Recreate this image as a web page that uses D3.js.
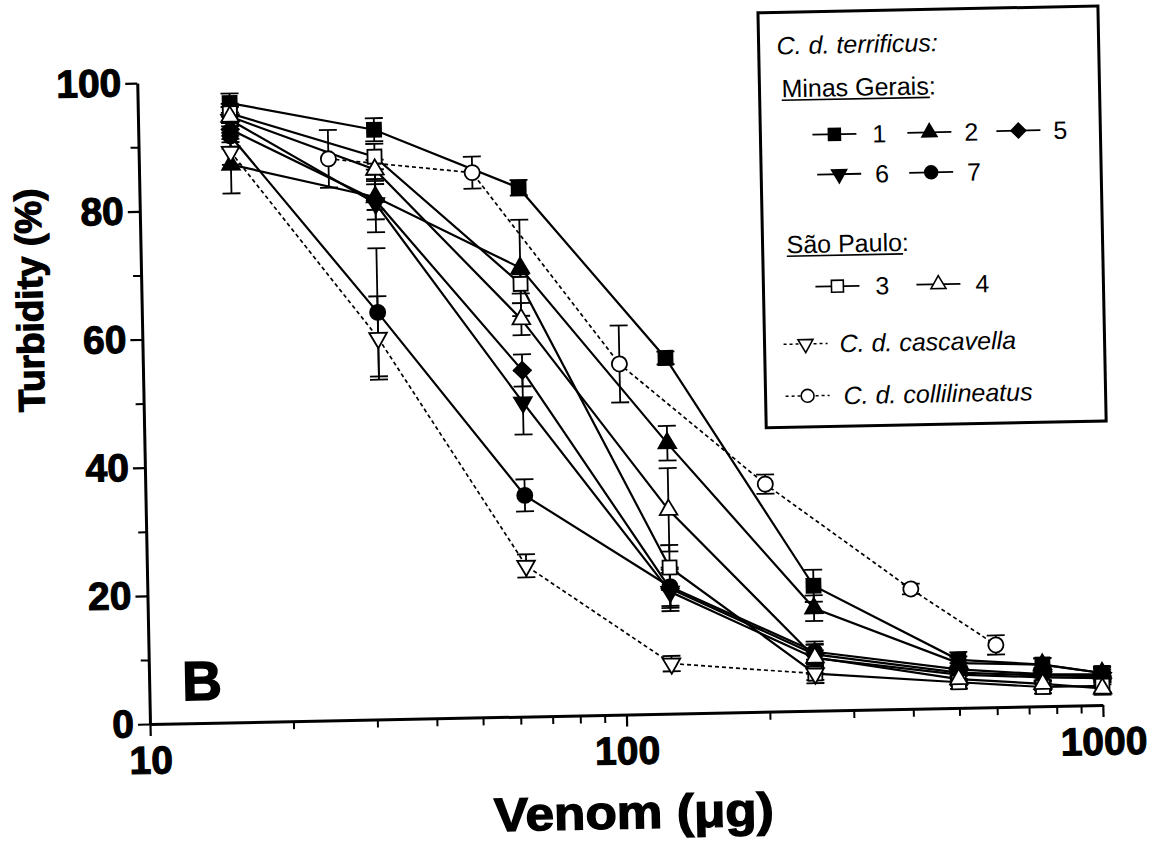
<!DOCTYPE html>
<html><head><meta charset="utf-8">
<script src="https://cdn.jsdelivr.net/npm/d3@7"></script>
<style>body{margin:0;background:#fff}</style>
</head><body><svg id="c" width="1159" height="846"></svg>
<script>
// ---- data ----
const doses = [15.6, 31.25, 62.5, 125, 250, 500, 750, 1000];
const mg1 = [96.6, 92.0, 82.5, 55.5, 19.5, 7.5, 6.5, 5.0];
const mg1Err = [1.5, 1.8, 1.2, 1.0, 2.5, 1.2, 1.0, 1.0];
const mg2 = [87.0, 81.5, 70.0, 42.2, 16.0, 7.0, 6.5, 5.0];
const mg2Err = [4.5, 2.0, 7.5, 2.7, 2.0, 1.0, 1.0, 1.0];
const mg5 = [92.5, 81.0, 54.0, 19.5, 8.8, 5.5, 4.8, 4.5];
const mg5Err = [2.0, 3.0, 2.5, 3.0, 1.5, 1.0, 1.0, 1.0];
const mg6 = [94.0, 80.5, 49.0, 19.0, 8.2, 5.2, 4.5, 4.2];
const mg6Err = [2.0, 4.5, 5.0, 3.0, 1.2, 1.0, 1.0, 1.0];
const mg7 = [91.5, 63.5, 34.5, 19.8, 9.2, 6.0, 5.0, 4.8];
const mg7Err = [2.0, 10.0, 2.5, 3.0, 1.2, 1.0, 1.0, 1.0];
const sp3 = [95.0, 87.8, 67.5, 22.8, 5.8, 4.0, 3.0, 3.0];
const sp3Err = [1.5, 2.0, 1.5, 3.5, 1.5, 1.0, 1.0, 1.0];
const sp4 = [94.5, 85.8, 62.0, 31.8, 8.3, 4.5, 3.5, 2.6];
const sp4Err = [1.5, 1.5, 2.5, 6.5, 2.5, 1.0, 1.0, 1.0];
const cascDoses = [15.6, 31.25, 62.5, 125, 250];
const casc = [89.0, 59.5, 23.5, 7.8, 5.8];
const cascErr = [2.0, 6.5, 1.8, 1.2, 1.0];
const colDoses = [25, 50, 100, 200, 400, 600];
const col = [87.6, 85.0, 54.7, 35.5, 18.7, 9.7];
const colErr = [4.5, 2.5, 6.0, 1.5, 0.8, 1.5];

const yMajor = [0, 20, 40, 60, 80, 100];
const yMinor = [10, 30, 50, 70, 90];
const xMajor = [10, 100, 1000];
const xMinor = [20, 30, 40, 50, 60, 70, 80, 90, 200, 300, 400, 500, 600, 700, 800, 900];

const series = [
  {key:"1", xs:doses, ys:mg1, es:mg1Err, sym:"square", fill:true, dash:false},
  {key:"2", xs:doses, ys:mg2, es:mg2Err, sym:"triUp", fill:true, dash:false},
  {key:"5", xs:doses, ys:mg5, es:mg5Err, sym:"diamond", fill:true, dash:false},
  {key:"6", xs:doses, ys:mg6, es:mg6Err, sym:"triDown", fill:true, dash:false},
  {key:"7", xs:doses, ys:mg7, es:mg7Err, sym:"circle", fill:true, dash:false},
  {key:"3", xs:doses, ys:sp3, es:sp3Err, sym:"square", fill:false, dash:false},
  {key:"4", xs:doses, ys:sp4, es:sp4Err, sym:"triUp", fill:false, dash:false},
  {key:"casc", xs:cascDoses, ys:casc, es:cascErr, sym:"triDown", fill:false, dash:true},
  {key:"col", xs:colDoses, ys:col, es:colErr, sym:"circle", fill:false, dash:true}
];

const FONT = "'Liberation Sans', Arial, Helvetica, sans-serif";
const svg = d3.select("#c");
svg.append("rect").attr("width",1159).attr("height",846).attr("fill","#fff");
const g = svg.append("g").attr("transform","rotate(-1.14,150,724)");

const x = d3.scaleLog().domain([10,1000]).range([150,1103]);
const y = d3.scaleLinear().domain([0,100]).range([724,83]);

function symPath(type, k) {
  k = k || 1;
  switch(type){
    case "square": return d3.symbol(d3.symbolSquare, 196*k*k)();
    case "triUp": return d3.symbol(d3.symbolTriangle, 135*k*k)();
    case "triDown": return d3.symbol(d3.symbolTriangle, 135*k*k)();
    case "diamond": return d3.symbol(d3.symbolSquare, 150*k*k)();
    case "circle": return d3.symbol(d3.symbolCircle, 180*k*k)();
  }
}
function symRot(type){ return type==="triDown" ? 180 : (type==="diamond" ? 45 : 0); }

// ---- axes ----
function styleAxis(sel){
  sel.select(".domain").attr("stroke","#000").attr("stroke-width",3);
  sel.selectAll(".tick line").attr("stroke","#000").attr("stroke-width",2.2);
  sel.selectAll("text").attr("font-family",FONT).attr("font-weight","bold")
     .attr("font-size",39).attr("fill","#000").attr("stroke","#000").attr("stroke-width",1.1);
}
const yAx = g.append("g").attr("transform","translate(150,0)")
  .call(d3.axisLeft(y).tickValues(yMajor).tickSize(12).tickSizeOuter(0).tickPadding(4).tickFormat(d3.format("d")));
styleAxis(yAx);
const yAxm = g.append("g").attr("transform","translate(150,0)")
  .call(d3.axisLeft(y).tickValues(yMinor).tickSize(8).tickSizeOuter(0).tickFormat(""));
yAxm.select(".domain").remove();
yAxm.selectAll(".tick line").attr("stroke","#000").attr("stroke-width",2);

const xAx = g.append("g").attr("transform","translate(0,724)")
  .call(d3.axisBottom(x).tickValues(xMajor).tickSize(12).tickSizeOuter(0).tickPadding(10).tickFormat(d3.format("d")));
styleAxis(xAx);
const xAxm = g.append("g").attr("transform","translate(0,724)")
  .call(d3.axisBottom(x).tickValues(xMinor).tickSize(8).tickSizeOuter(0).tickFormat(""));
xAxm.select(".domain").remove();
xAxm.selectAll(".tick line").attr("stroke","#000").attr("stroke-width",2);

// axis titles
g.append("text").attr("transform","translate(51,298) rotate(-90)")
  .attr("text-anchor","middle").attr("font-family",FONT).attr("font-weight","bold")
  .attr("font-size",37).attr("stroke","#000").attr("stroke-width",1.2).text("Turbidity (%)");
g.append("text").attr("x",632).attr("y",838)
  .attr("text-anchor","middle").attr("font-family",FONT).attr("font-weight","bold")
  .attr("font-size",47).attr("textLength",280).attr("lengthAdjust","spacingAndGlyphs")
  .attr("stroke","#000").attr("stroke-width",1.3).text("Venom (\u03bcg)");
g.append("text").attr("x",183).attr("y",701)
  .attr("font-family",FONT).attr("font-weight","bold")
  .attr("font-size",55).attr("stroke","#000").attr("stroke-width",1.5).text("B");

// ---- lines ----
const line = d3.line().x(d=>x(d[0])).y(d=>y(d[1]));
series.forEach(s=>{
  const pts = s.xs.map((v,i)=>[v, s.ys[i]]);
  g.append("path").datum(pts).attr("d",line).attr("fill","none")
    .attr("stroke","#000").attr("stroke-width", s.dash?1.7:2.2)
    .attr("stroke-dasharray", s.dash?"4,3":null);
});
// ---- error bars ----
series.forEach(s=>{
  const eb = g.append("g").attr("stroke","#000").attr("stroke-width",1.8);
  s.xs.forEach((v,i)=>{
    const cx = x(v), y1 = y(s.ys[i]+s.es[i]), y2 = y(s.ys[i]-s.es[i]);
    eb.append("line").attr("x1",cx).attr("x2",cx).attr("y1",y1).attr("y2",y2);
    eb.append("line").attr("x1",cx-9).attr("x2",cx+9).attr("y1",y1).attr("y2",y1);
    eb.append("line").attr("x1",cx-9).attr("x2",cx+9).attr("y1",y2).attr("y2",y2);
  });
});
// ---- markers ----
series.forEach(s=>{
  g.append("g").selectAll("path").data(s.xs.map((v,i)=>[v,s.ys[i]])).join("path")
    .attr("d", symPath(s.sym))
    .attr("transform", d=>`translate(${x(d[0])},${y(d[1])}) rotate(${symRot(s.sym)})`)
    .attr("fill", s.fill?"#000":"#fff").attr("stroke","#000").attr("stroke-width",1.8);
});

// ---- legend ----
const L = g.append("g");
L.append("rect").attr("x",772).attr("y",25).attr("width",340).attr("height",415)
  .attr("fill","#fff").attr("stroke","#000").attr("stroke-width",3);
function ltext(tx, ty, str, italic, underline){
  const t = L.append("text").attr("x",tx).attr("y",ty).attr("font-family",FONT)
    .attr("font-size",25).attr("font-style",italic?"italic":"normal").text(str);
  if(underline){
    const w = t.node().getComputedTextLength();
    L.append("line").attr("x1",tx).attr("x2",tx+w-6).attr("y1",ty+3).attr("y2",ty+3)
      .attr("stroke","#000").attr("stroke-width",1.6);
  }
}
function lentry(s, cx, cy, tx, label, italic){
  L.append("line").attr("x1",cx-22).attr("x2",cx+22).attr("y1",cy).attr("y2",cy)
    .attr("stroke","#000").attr("stroke-width",s.dash?1.5:1.8).attr("stroke-dasharray",s.dash?"3,3":null);
  L.append("path").attr("d",symPath(s.sym,0.85))
    .attr("transform",`translate(${cx},${cy}) rotate(${symRot(s.sym)})`)
    .attr("fill",s.fill?"#000":"#fff").attr("stroke","#000").attr("stroke-width",1.6);
  ltext(tx, cy+9, label, italic, false);
}
const byKey = k => series.find(s=>s.key===k);
ltext(790, 67, "C. d. terrificus:", true, false);
ltext(794, 110, "Minas Gerais:", false, true);
lentry(byKey("1"), 846, 148, 884, "1");
lentry(byKey("2"), 941, 148, 976, "2");
lentry(byKey("5"), 1030, 148, 1065, "5");
lentry(byKey("6"), 850, 188, 886, "6");
lentry(byKey("7"), 942, 188, 978, "7");
ltext(796, 266, "S\u00e3o Paulo:", false, true);
lentry(byKey("3"), 846, 300, 884, "3");
lentry(byKey("4"), 947, 300, 984, "4");
lentry(byKey("casc"), 813, 357, 847, "C. d. cascavella", true);
lentry(byKey("col"), 814, 409, 850, "C. d. collilineatus", true);
</script></body></html>
